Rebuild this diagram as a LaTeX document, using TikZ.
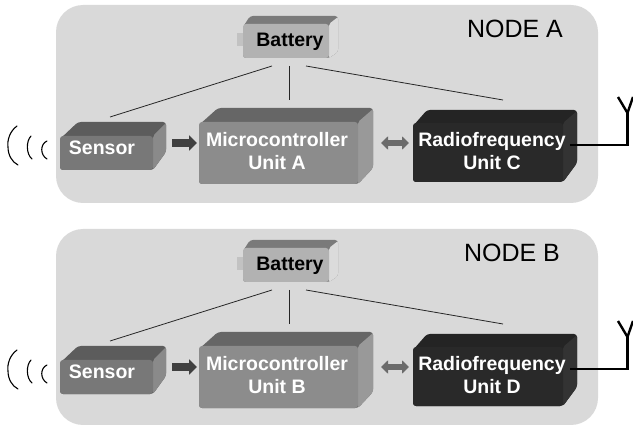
\documentclass[tikz,border=0pt]{standalone}
\usepackage{fontspec}
\setmainfont{Liberation Sans}
\usetikzlibrary{arrows.meta}
\definecolor{panelgray}{HTML}{D9D9D9}
\tikzset{
  panel/.style={fill=panelgray,draw=none,rounded corners=27pt},
  boxlabel/.style={font=\bfseries\fontsize{19.5}{23.5}\selectfont,text=white,align=center,inner sep=0pt},
  blacklabel/.style={font=\bfseries\fontsize{19.5}{23.5}\selectfont,text=black,align=center,inner sep=0pt},
  titlelabel/.style={font=\fontsize{25}{30}\selectfont,text=black,inner sep=0pt},
  powerline/.style={draw=black!85,line width=0.8pt},
  dataarrow/.style={draw=black!75,line width=8pt,-{Triangle[length=8pt,width=15pt]}},
  linkarrow/.style={draw=black!58,line width=6pt,{Triangle[length=7pt,width=13pt]}-{Triangle[length=7pt,width=13pt]}},
  antennaline/.style={draw=black,line width=2.8pt},
  forkline/.style={draw=black,line width=2.4pt},
  waveline/.style={draw=black,line width=1.1pt,line cap=round},
}
% x1,y1,x2,y2 of the front face; left, right, up offsets; top, right colours
% \backbottom is the lower end of the far edge of the side face
\newcommand{\solidbox}[9]{%
  \fill[#8,rounded corners=3pt] (#1,#2+3) -- ({#1+#5},{#2-#7}) -- ({#3+#6},{#2-#7}) -- ({#3+#6},\backbottom) -- (#3,#4) -- (#1,#4) -- cycle;
  \fill[#9,rounded corners=2pt] (#3,#2) -- ({#3+#6},{#2-#7+1}) -- ({#3+#6},\backbottom) -- (#3,#4) -- cycle;
}
\newcommand{\frontface}[5]{\fill[#5,rounded corners=3pt] (#1,#2) rectangle (#3,#4);}
\begin{document}
\begin{tikzpicture}[x=1pt,y=-1pt]
\useasboundingbox (0,0) rectangle (633,425);
\foreach \off/\pb/\sfx/\ua/\ub/\ttl/\tx in {0/203/A/A/C/NODE A/515,224/201/B/B/D/NODE B/512}{
\begin{scope}[yshift=-\off pt]
  \fill[panel] (56,5) rectangle (598,\pb);
  \draw[waveline] (17,126) .. controls (10,131) and (7,140) .. (8,147) .. controls (8,155) and (12,162) .. (18,165);
  \draw[waveline] (31,136) .. controls (26,141) and (26,154) .. (32,159);
  \draw[waveline] (47,141) .. controls (40,144) and (40,155) .. (47,159);
  \fill[black!24] (237,33) rectangle (244,46);
  \def\backbottom{52}
  \solidbox{243}{24}{329}{58}{7}{9}{8}{black!52}{black!14}
  \frontface{243}{24}{329}{58}{black!30}
  \node[blacklabel] (battery\sfx) at (290,42) {Battery};
  \def\backbottom{152}
  \solidbox{60}{136}{153}{170}{18}{13}{14}{black!64}{black!46}
  \frontface{60}{136}{153}{170}{black!53}
  \node[boxlabel] (sensor\sfx) at (102,148) {Sensor};
  \def\backbottom{168}
  \solidbox{199}{122}{358}{184}{19}{15}{14}{black!60}{black!40}
  \frontface{199}{122}{358}{184}{black!45}
  \node[boxlabel] (micro\sfx) at (277,151) {Microcontroller\\Unit \ua};
  \def\backbottom{163}
  \solidbox{413}{123}{563}{182}{14}{14}{13}{black!86}{black!80}
  \frontface{413}{123}{563}{182}{black!84}
  \node[boxlabel] (radio\sfx) at (492,151) {Radiofrequency\\Unit \ub};
  \node[titlelabel] (title\sfx) at (\tx,29) {\ttl};
  \coordinate (bl\sfx) at (272,66);
  \coordinate (bm\sfx) at (289,66);
  \coordinate (br\sfx) at (306,66);
  \coordinate (sp\sfx) at (110,117);
  \coordinate (mp\sfx) at (289,100);
  \coordinate (rp\sfx) at (503,100);
  \coordinate (sa\sfx) at (172,143);
  \coordinate (ma\sfx) at (197,143);
  \coordinate (mb\sfx) at (381,143);
  \coordinate (rb\sfx) at (409,143);
  \coordinate (rw\sfx) at (570,145);
  \coordinate (ab\sfx) at (627.5,145);
  \coordinate (ac\sfx) at (627.5,113);
  \coordinate (af\sfx) at (618,97);
  \coordinate (ag\sfx) at (633,97);
  \draw[powerline] (bl\sfx) -- (sp\sfx);
  \draw[powerline] (bm\sfx) -- (mp\sfx);
  \draw[powerline] (br\sfx) -- (rp\sfx);
  \draw[dataarrow] (sa\sfx) -- (ma\sfx);
  \draw[linkarrow] (mb\sfx) -- (rb\sfx);
  \draw[antennaline,line join=miter] (rw\sfx) -- (ab\sfx) -- (ac\sfx);
  \draw[forkline] (af\sfx) -- (ac\sfx) -- (ag\sfx);
\end{scope}}
\end{tikzpicture}
\end{document}
